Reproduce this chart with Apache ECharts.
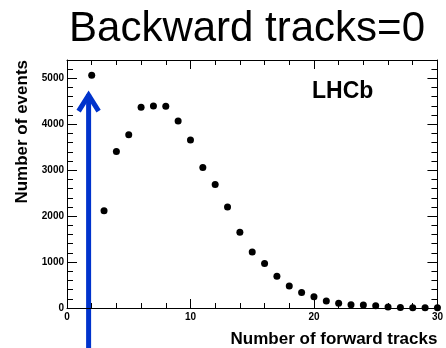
<!DOCTYPE html>
<html><head><meta charset="utf-8">
<script src="https://cdn.jsdelivr.net/npm/echarts@6/dist/echarts.min.js"></script>
<style>html,body{margin:0;padding:0;background:#fff}#c{width:446px;height:348px}</style>
</head><body><div id="c"></div>
<script>
const title = 'Backward tracks=0';
const experiment = 'LHCb';
const xName = 'Number of forward tracks';
const yName = 'Number of events';
const nTracks = [2,3,4,5,6,7,8,9,10,11,12,13,14,15,16,17,18,19,20,21,22,23,24,25,26,27,28,29,30];
const nEvents = [5070,2120,3410,3770,4370,4400,4395,4070,3660,3060,2690,2200,1650,1220,970,690,480,340,245,150,105,72,65,50,20,10,8,6,4];
const arrowX = 1.75, arrowTopY = 4700;

const chart = echarts.init(document.getElementById('c'));
const font = 'Liberation Sans, Arial, Helvetica, sans-serif';
const axisCommon = {
  axisLine:{show:true, onZero:false, lineStyle:{color:'#000', width:1}},
  splitLine:{show:false},
  minorSplitLine:{show:false}
};
chart.setOption({
  animation:false,
  grid:{left:67, right:5, top:60, bottom:39, containLabel:false},
  xAxis:[
    Object.assign({type:'value', min:0, max:30, interval:10, position:'bottom',
      name:xName, nameLocation:'end', nameGap:0,
      nameTextStyle:{fontFamily:font, fontWeight:'bold', fontSize:17, color:'#000', align:'right', verticalAlign:'top', padding:[23,0,0,0]},
      axisTick:{show:true, inside:true, length:9, lineStyle:{color:'#000'}},
      minorTick:{show:true, splitNumber:5, length:5, lineStyle:{color:'#000'}},
      axisLabel:{fontFamily:font, fontWeight:'bold', fontSize:10, color:'#000', margin:4}}, axisCommon),
    Object.assign({type:'value', min:0, max:30, interval:10, position:'top',
      axisTick:{show:true, inside:true, length:9, lineStyle:{color:'#000'}},
      minorTick:{show:true, splitNumber:5, length:5, lineStyle:{color:'#000'}},
      axisLabel:{show:false}}, axisCommon)
  ],
  yAxis:[
    Object.assign({type:'value', min:0, max:5400, interval:1000, position:'left',
      name:yName, nameLocation:'end', nameRotate:90, nameGap:0,
      nameTextStyle:{fontFamily:font, fontWeight:'bold', fontSize:17, color:'#000', align:'right', verticalAlign:'bottom', padding:[0,0,36,0]},
      axisTick:{show:true, inside:true, length:10, lineStyle:{color:'#000'}},
      minorTick:{show:true, splitNumber:5, length:6, lineStyle:{color:'#000'}},
      axisLabel:{fontFamily:font, fontWeight:'bold', fontSize:10, color:'#000', margin:3, showMaxLabel:false, formatter:v=>String(v)}}, axisCommon),
    Object.assign({type:'value', min:0, max:5400, interval:1000, position:'right',
      axisTick:{show:true, inside:true, length:10, lineStyle:{color:'#000'}},
      minorTick:{show:true, splitNumber:5, length:6, lineStyle:{color:'#000'}},
      axisLabel:{show:false}}, axisCommon)
  ],
  series:[{
    type:'scatter', xAxisIndex:0, yAxisIndex:0,
    data:nTracks.map((x,i)=>[x,nEvents[i]]),
    symbol:'circle', symbolSize:7, itemStyle:{color:'#000', opacity:1}
  }]
});
const tip = chart.convertToPixel({xAxisIndex:0,yAxisIndex:0},[arrowX, arrowTopY]);
chart.setOption({
  graphic:[
    {type:'text', x:247, y:8, style:{text:title, fontFamily:font, fontSize:42, fill:'#000', align:'center', verticalAlign:'top'}},
    {type:'text', left:312, top:80, style:{text:experiment, fontFamily:font, fontWeight:'bold', fontSize:23, fill:'#000'}},
    {type:'line', shape:{x1:tip[0], y1:tip[1]+2, x2:tip[0], y2:348}, style:{stroke:'#0033cc', lineWidth:5}},
    {type:'polyline', shape:{points:[[tip[0]-10,tip[1]+19],[tip[0],tip[1]+3],[tip[0]+10,tip[1]+19]]}, style:{stroke:'#0033cc', lineWidth:5, fill:null, lineJoin:'miter'}}
  ]
});
</script></body></html>
